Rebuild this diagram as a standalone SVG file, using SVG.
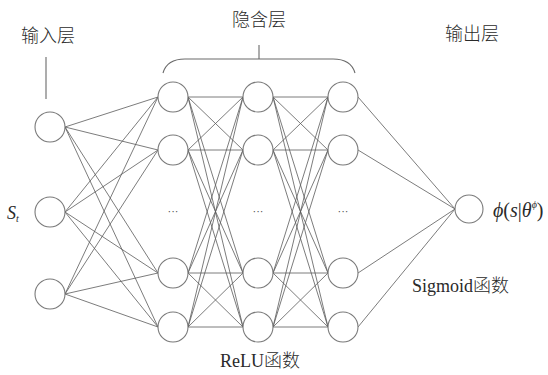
<svg xmlns="http://www.w3.org/2000/svg" width="548" height="375" viewBox="0 0 548 375">
<style>
.n{fill:#fff;stroke:#7a7a7a;stroke-width:1.1}
.c line{stroke:#5a5a5a;stroke-width:0.8}
.t{font-family:"Liberation Serif","Noto Sans CJK SC",serif;font-size:18px;font-weight:300;fill:#2a2a2a}
.m{font-family:"Liberation Serif",serif;font-style:italic;fill:#2a2a2a}
.g{fill:none;stroke:#6a6a6a;stroke-width:1.1}
.d{font-family:"Liberation Serif",serif;font-size:11px;fill:#444}
</style>
<rect width="548" height="375" fill="#fff"/>
<g id="connectors" class="c">
<line x1="65" y1="127" x2="158" y2="97"/><line x1="65" y1="127" x2="158" y2="150"/><line x1="65" y1="127" x2="158" y2="273"/><line x1="65" y1="127" x2="158" y2="327"/>
<line x1="65" y1="212" x2="158" y2="97"/><line x1="65" y1="212" x2="158" y2="150"/><line x1="65" y1="212" x2="158" y2="273"/><line x1="65" y1="212" x2="158" y2="327"/>
<line x1="65" y1="294" x2="158" y2="97"/><line x1="65" y1="294" x2="158" y2="150"/><line x1="65" y1="294" x2="158" y2="273"/><line x1="65" y1="294" x2="158" y2="327"/>
<line x1="188" y1="97" x2="243" y2="97"/><line x1="188" y1="97" x2="243" y2="150"/><line x1="188" y1="97" x2="243" y2="273"/><line x1="188" y1="97" x2="243" y2="327"/>
<line x1="188" y1="150" x2="243" y2="97"/><line x1="188" y1="150" x2="243" y2="150"/><line x1="188" y1="150" x2="243" y2="273"/><line x1="188" y1="150" x2="243" y2="327"/>
<line x1="188" y1="273" x2="243" y2="97"/><line x1="188" y1="273" x2="243" y2="150"/><line x1="188" y1="273" x2="243" y2="273"/><line x1="188" y1="273" x2="243" y2="327"/>
<line x1="188" y1="327" x2="243" y2="97"/><line x1="188" y1="327" x2="243" y2="150"/><line x1="188" y1="327" x2="243" y2="273"/><line x1="188" y1="327" x2="243" y2="327"/>
<line x1="273" y1="97" x2="328" y2="97"/><line x1="273" y1="97" x2="328" y2="150"/><line x1="273" y1="97" x2="328" y2="273"/><line x1="273" y1="97" x2="328" y2="327"/>
<line x1="273" y1="150" x2="328" y2="97"/><line x1="273" y1="150" x2="328" y2="150"/><line x1="273" y1="150" x2="328" y2="273"/><line x1="273" y1="150" x2="328" y2="327"/>
<line x1="273" y1="273" x2="328" y2="97"/><line x1="273" y1="273" x2="328" y2="150"/><line x1="273" y1="273" x2="328" y2="273"/><line x1="273" y1="273" x2="328" y2="327"/>
<line x1="273" y1="327" x2="328" y2="97"/><line x1="273" y1="327" x2="328" y2="150"/><line x1="273" y1="327" x2="328" y2="273"/><line x1="273" y1="327" x2="328" y2="327"/>
<line x1="358" y1="97" x2="455" y2="209"/><line x1="358" y1="150" x2="455" y2="209"/><line x1="358" y1="273" x2="455" y2="209"/><line x1="358" y1="327" x2="455" y2="209"/>
</g>
<g id="guides">
<line class="g" x1="46" y1="57" x2="46" y2="99"/>
<path class="g" d="M163,73 Q167,59 185,59 L333,59 Q351,59 355,73"/>
<line class="g" x1="259" y1="45" x2="259" y2="59"/>
</g>
<g id="labels">
<text class="t" x="21" y="42">输入层</text>
<text class="t" x="232" y="26">隐含层</text>
<text class="t" x="445" y="40">输出层</text>
<text class="t" x="412" y="292">Sigmoid函数</text>
<text class="t" x="220" y="367">ReLU函数</text>
<text class="m" x="7" y="219" font-size="18">S<tspan font-size="10" dy="3">t</tspan></text>
<text class="m" x="493" y="217" font-size="20">ϕ<tspan font-style="normal">(</tspan>s<tspan font-style="normal">|</tspan>θ<tspan font-size="10" dy="-9">ϕ</tspan><tspan font-style="normal" dy="9">)</tspan></text>
<text class="d" x="173" y="215" text-anchor="middle">···</text>
<text class="d" x="258" y="215" text-anchor="middle">···</text>
<text class="d" x="343" y="215" text-anchor="middle">···</text>
</g>
<g id="input"><circle class="n" cx="50" cy="127" r="15"/><circle class="n" cx="50" cy="212" r="15"/><circle class="n" cx="50" cy="294" r="15"/></g>
<g id="hidden1"><circle class="n" cx="173" cy="97" r="15"/><circle class="n" cx="173" cy="150" r="15"/><circle class="n" cx="173" cy="273" r="15"/><circle class="n" cx="173" cy="327" r="15"/></g>
<g id="hidden2"><circle class="n" cx="258" cy="97" r="15"/><circle class="n" cx="258" cy="150" r="15"/><circle class="n" cx="258" cy="273" r="15"/><circle class="n" cx="258" cy="327" r="15"/></g>
<g id="hidden3"><circle class="n" cx="343" cy="97" r="15"/><circle class="n" cx="343" cy="150" r="15"/><circle class="n" cx="343" cy="273" r="15"/><circle class="n" cx="343" cy="327" r="15"/></g>
<g id="output"><circle class="n" cx="469" cy="209" r="14"/></g>
</svg>
